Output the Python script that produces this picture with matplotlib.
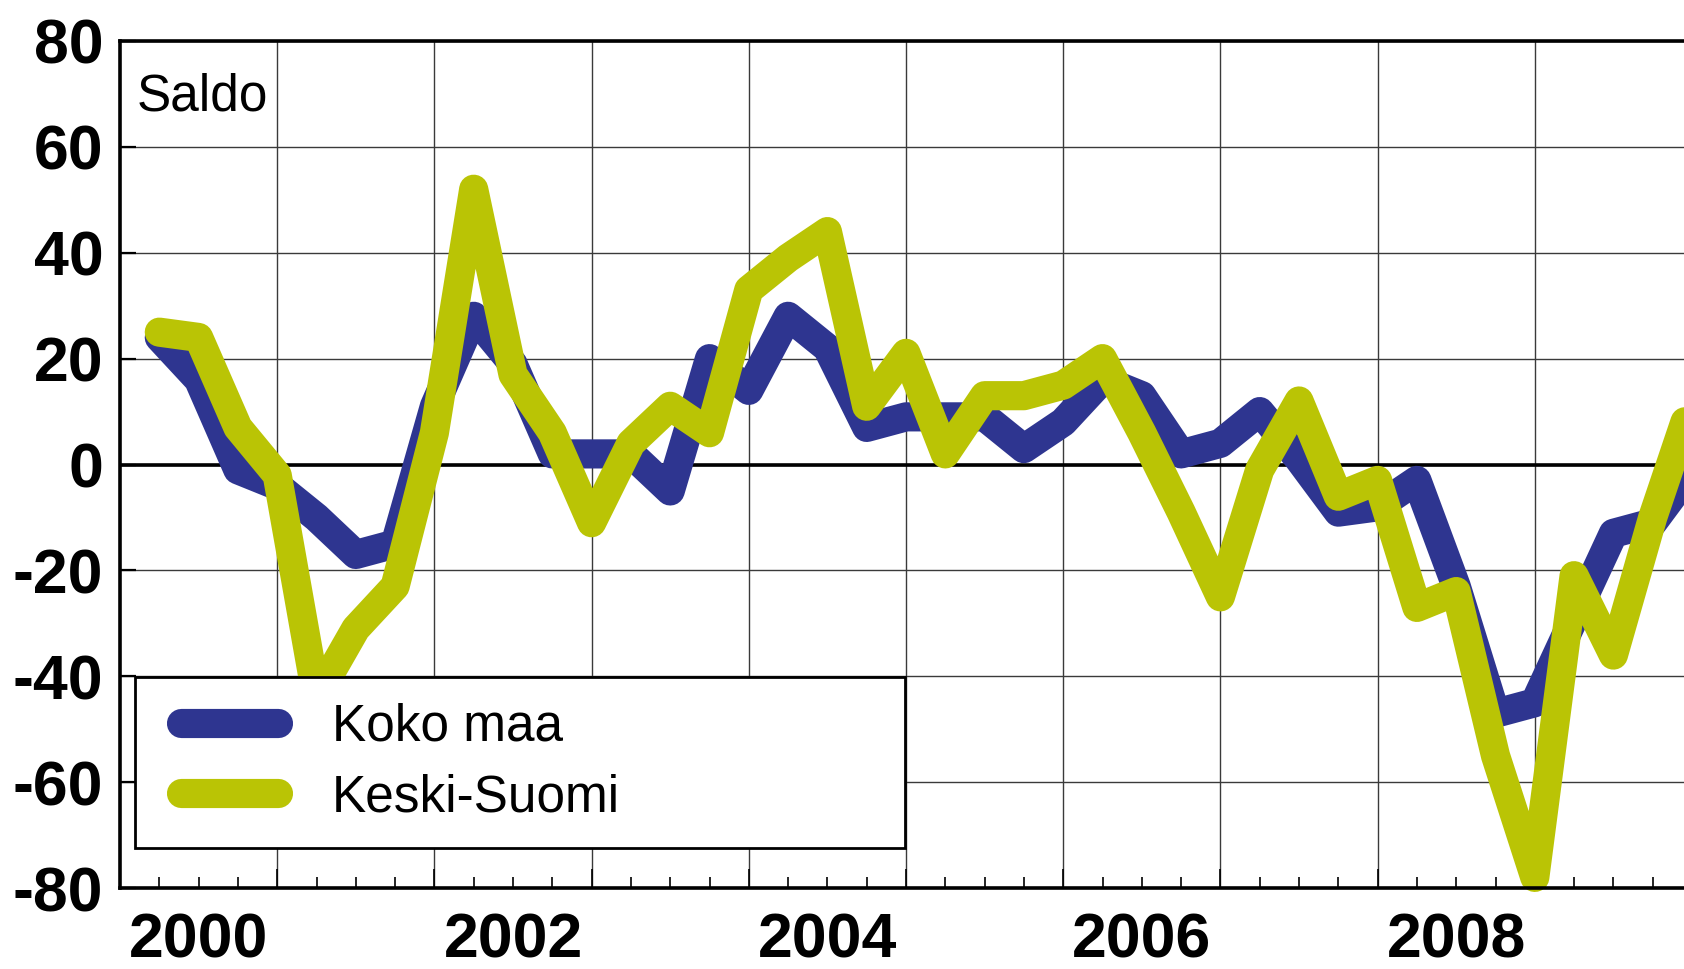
import numpy as np
import matplotlib
matplotlib.use("Agg")
import matplotlib.pyplot as plt
from matplotlib.lines import Line2D
from matplotlib.legend_handler import HandlerLine2D
from matplotlib.ticker import MultipleLocator
import matplotlib.transforms as mtransforms

plt.rcParams['font.family'] = ['Liberation Sans', 'DejaVu Sans']

# Quarterly balance figures, 2000Q1 .. 2009Q4 (plotted at quarter ends)
quarters = np.arange(1, 41)
koko_maa = [24, 16, -1, -4, -10, -17, -15, 11, 28, 19,
            2, 2, 2, -5, 20, 14, 28, 22, 7, 9,
            9, 9, 3, 8, 16, 13, 2, 4, 10, 1,
            -9, -8, -3, -23, -47, -45, -29, -13, -11, -1]
keski_suomi = [25, 24, 7, -2, -44, -31, -23, 6, 52, 17,
               6, -11, 4, 11, 6, 33, 39, 44, 11, 21,
               2, 13, 13, 15, 20, 6, -9, -25, -1, 12,
               -6, -3, -27, -24, -55, -78, -21, -36, -10, 12]
series_labels = ["Koko maa", "Keski-Suomi"]
year_labels = ["2000", "2002", "2004", "2006", "2008"]
y_ticks = [-80, -60, -40, -20, 0, 20, 40, 60, 80]

x = 2000 + quarters / 4.0

fig = plt.figure(figsize=(16.84, 9.69), dpi=100)
# right edge of the axes sits just past the picture edge (2010 is cut off)
ax = fig.add_axes([120 / 1684, 81 / 969, 1572 / 1684, 847 / 969])

ax.set_xlim(2000, 2010)
ax.set_ylim(-80, 80)

# grid
for yv in y_ticks:
    ax.axhline(yv, color='#3a3a3a', lw=1.0, zorder=1)
for yr in range(2001, 2010):
    ax.axvline(yr, color='#3a3a3a', lw=1.0, zorder=1)
ax.axhline(0, color='black', lw=2.6, zorder=2)

blue = '#2e3590'
green = '#bac405'
ax.plot(x, koko_maa, color=blue, lw=21, solid_capstyle='round',
        solid_joinstyle='round', label=series_labels[0], zorder=3, clip_on=False)
ax.plot(x, keski_suomi, color=green, lw=21, solid_capstyle='round',
        solid_joinstyle='round', label=series_labels[1], zorder=4, clip_on=False)

# spines
for s in ['left', 'bottom', 'top']:
    ax.spines[s].set_linewidth(2.6)
    ax.spines[s].set_zorder(5)
ax.spines['right'].set_visible(False)

# ticks
ax.set_yticks(y_ticks)
ax.set_yticklabels([str(v) for v in y_ticks])
ax.tick_params(axis='y', direction='in', length=11.5, width=1.6, pad=12,
               labelsize=45)
for lab in ax.get_yticklabels():
    lab.set_fontweight('bold')

ax.xaxis.set_major_locator(MultipleLocator(1))
ax.xaxis.set_minor_locator(MultipleLocator(0.25))
ax.tick_params(axis='x', which='major', direction='in', length=14, width=1.2,
               labelbottom=False, top=False)
ax.tick_params(axis='x', which='minor', direction='in', length=8, width=1.2,
               top=False)

trans = mtransforms.blended_transform_factory(ax.transData, ax.transAxes)
for lab in year_labels:
    ax.text(int(lab) + 0.5, -(957 - 888) / 847, lab, transform=trans,
            ha='center', va='baseline', fontsize=45, fontweight='bold')

ax.text(0.0108, 0.918, "Saldo", transform=ax.transAxes, fontsize=37,
        ha='left', va='baseline', zorder=6)

leg_top = (888 - 677) / 847
leg = ax.legend(loc='upper left',
                bbox_to_anchor=(15 / 1572, leg_top - 0.01, 770 / 1572, 0.01),
                mode='expand', borderaxespad=0, fontsize=37, frameon=True,
                fancybox=False, edgecolor='black', framealpha=1,
                handlelength=2.28, handletextpad=1.05, borderpad=0.5,
                labelspacing=0.42,
                handler_map={Line2D: HandlerLine2D(xpad=0.4)})
leg.get_frame().set_linewidth(2.0)
leg.set_zorder(10)

fig.savefig("out.png", dpi=100)
